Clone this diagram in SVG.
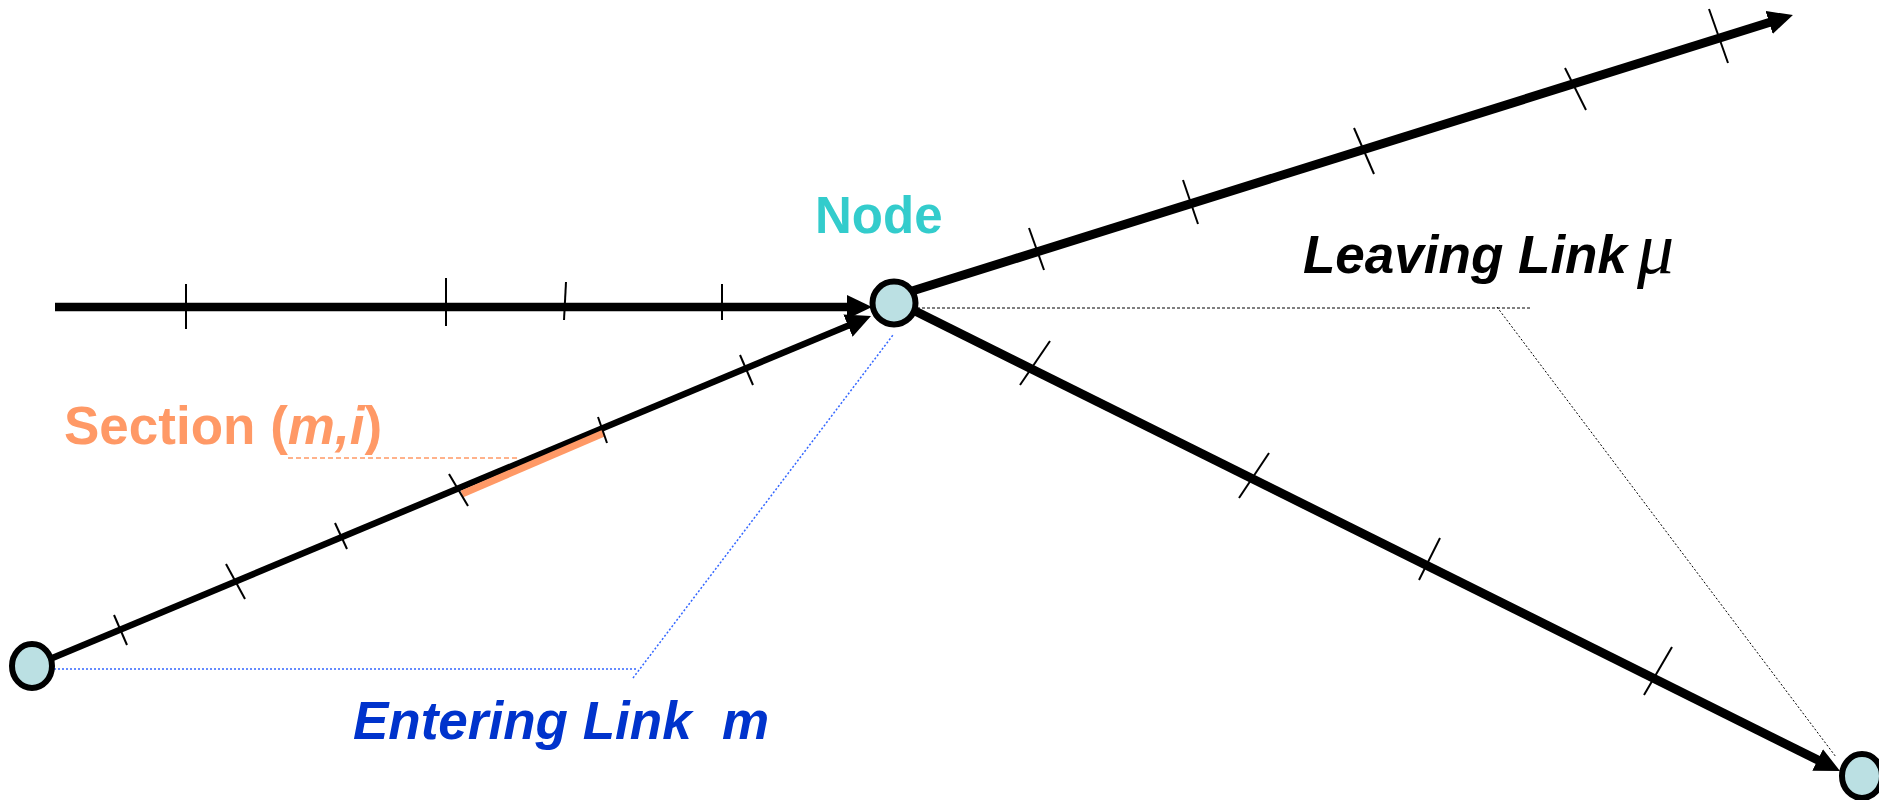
<svg xmlns="http://www.w3.org/2000/svg" width="1879" height="800" viewBox="0 0 1879 800">
<style>
.link{stroke:#000;fill:none;stroke-linecap:butt}
.tick{stroke:#000;stroke-width:2;fill:none}
.node{fill:#BBE0E3;stroke:#000;stroke-width:6}
.lbl{font-family:"Liberation Sans",Arial,sans-serif;font-weight:bold}
.it{font-style:italic}
</style>
<defs>
<marker id="arr" viewBox="0 0 25 24" markerWidth="25" markerHeight="24" refX="11" refY="12" orient="auto" markerUnits="userSpaceOnUse">
<path d="M0,0 L25,12 L0,24 z" fill="#000"/>
</marker>
</defs>
<rect width="1879" height="800" fill="#fff"/>
<g id="leaders">
<line x1="54" y1="669" x2="638" y2="669" stroke="#3366FF" stroke-width="1.5" stroke-dasharray="2,2"/>
<line x1="633" y1="678" x2="893" y2="335" stroke="#3366FF" stroke-width="1.5" stroke-dasharray="2,2"/>
<line x1="917" y1="308" x2="1531" y2="308" stroke="#000" stroke-width="1" stroke-dasharray="3,2"/>
<line x1="1497" y1="307" x2="1836" y2="757" stroke="#000" stroke-width="1" stroke-dasharray="2,2"/>
<line x1="288" y1="458" x2="518" y2="458" stroke="#FF9966" stroke-width="1.5" stroke-dasharray="5,3"/>
</g>
<g id="connectors">
<line class="link" x1="55" y1="307" x2="858" y2="307" stroke-width="8.5" marker-end="url(#arr)"/>
<line class="link" x1="50" y1="659" x2="858.1" y2="321.4" stroke-width="6.5" marker-end="url(#arr)"/>
<line class="link" x1="893" y1="297" x2="1779.6" y2="19.2" stroke-width="9" marker-end="url(#arr)"/>
<line class="link" x1="893" y1="300" x2="1827.5" y2="764.8" stroke-width="9" marker-end="url(#arr)"/>
<line id="section" x1="462" y1="494" x2="604" y2="433" stroke="#FF9966" stroke-width="7"/>
</g>
<g id="ticks">
<line class="tick" x1="186" y1="284" x2="186" y2="329"/>
<line class="tick" x1="446" y1="278" x2="446" y2="326"/>
<line class="tick" x1="566" y1="282" x2="564" y2="320"/>
<line class="tick" x1="722" y1="284" x2="722" y2="320"/>
<line class="tick" x1="114" y1="615" x2="127" y2="645"/>
<line class="tick" x1="226" y1="564" x2="245" y2="599"/>
<line class="tick" x1="335" y1="523" x2="347" y2="549"/>
<line class="tick" x1="449" y1="474" x2="468" y2="506"/>
<line class="tick" x1="598" y1="417" x2="607" y2="443"/>
<line class="tick" x1="740" y1="355" x2="753" y2="385"/>
<line class="tick" x1="1029" y1="228" x2="1044" y2="270"/>
<line class="tick" x1="1183" y1="180" x2="1198" y2="224"/>
<line class="tick" x1="1354" y1="128" x2="1374" y2="174"/>
<line class="tick" x1="1565" y1="68" x2="1586" y2="110"/>
<line class="tick" x1="1709" y1="9" x2="1728" y2="63"/>
<line class="tick" x1="1050" y1="341" x2="1020" y2="385"/>
<line class="tick" x1="1269" y1="453" x2="1239" y2="498"/>
<line class="tick" x1="1440" y1="538" x2="1419" y2="580"/>
<line class="tick" x1="1672" y1="647" x2="1644" y2="695"/>
</g>
<g id="node-center">
<ellipse class="node" cx="894" cy="303" rx="21.5" ry="21.5"/>
</g>
<g id="node-left">
<ellipse class="node" cx="32" cy="666" rx="20" ry="22"/>
</g>
<g id="node-right">
<ellipse class="node" cx="1862" cy="776" rx="20" ry="22"/>
</g>
<g id="labels">
<text class="lbl" x="815" y="233" font-size="51" fill="#33CCCC">Node</text>
<text class="lbl" x="64" y="444" font-size="53" fill="#FF9966">Section (<tspan class="it">m,i</tspan>)</text>
<text class="lbl it" x="353" y="739" font-size="53" fill="#0033CC">Entering Link<tspan x="722">m</tspan></text>
<text class="lbl it" x="1303" y="273" font-size="53" fill="#000">Leaving Link</text>
<text x="1637" y="273" font-family="'Liberation Serif','Times New Roman',serif" font-style="italic" font-size="74" fill="#000">μ</text>
</g>
</svg>
